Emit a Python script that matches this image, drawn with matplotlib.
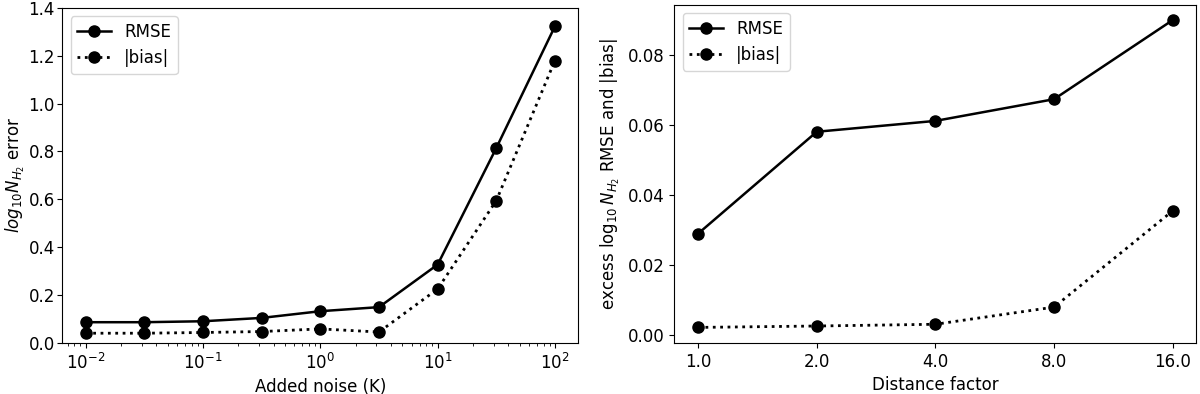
import matplotlib
matplotlib.use("Agg")
import matplotlib.pyplot as plt

# Left panel: error vs added noise
noise = [0.01, 0.0316, 0.1, 0.316, 1.0, 3.16, 10.0, 31.6, 100.0]
rmse_noise = [0.086, 0.086, 0.090, 0.104, 0.132, 0.149, 0.327, 0.814, 1.323]
bias_noise = [0.040, 0.040, 0.043, 0.047, 0.058, 0.045, 0.225, 0.594, 1.180]

# Right panel: excess error vs distance factor
dist = [1.0, 2.0, 4.0, 8.0, 16.0]
dist_labels = ["1.0", "2.0", "4.0", "8.0", "16.0"]
rmse_dist = [0.0289, 0.0580, 0.0611, 0.0673, 0.0899]
bias_dist = [0.0021, 0.0025, 0.0030, 0.0079, 0.0354]

plt.rcParams['font.size'] = 12

fig = plt.figure(figsize=(12, 3.94), dpi=100)
ax1 = fig.add_axes([0.052, 0.130, 0.430, 0.850])
ax2 = fig.add_axes([0.562, 0.130, 0.435, 0.858])

# left
ax1.plot(noise, rmse_noise, 'k-o', lw=1.8, ms=8, label='RMSE')
ax1.plot(noise, bias_noise, 'k:o', lw=2, ms=8, label='|bias|')
ax1.set_xscale('log')
ax1.set_ylim(0, 1.4)
ax1.tick_params(axis='y', pad=2)
ax1.set_xlabel('Added noise (K)')
ax1.set_ylabel(r'$log_{10}N_{H_2}$ error', labelpad=1)
ax1.legend(loc='upper left')

# right
ax2.plot(dist, rmse_dist, 'k-o', lw=1.8, ms=8, label='RMSE')
ax2.plot(dist, bias_dist, 'k:o', lw=2, ms=8, label='|bias|')
ax2.set_xscale('log', base=2)
ax2.set_xticks(dist)
ax2.set_xticklabels(dist_labels)
ax2.minorticks_off()
ax2.set_xlabel('Distance factor')
ax2.set_ylabel(r'excess $\log_{10}N_{H_2}$ RMSE and |bias|')
ax2.legend(loc='upper left')

fig.savefig('out.png', dpi=100)
